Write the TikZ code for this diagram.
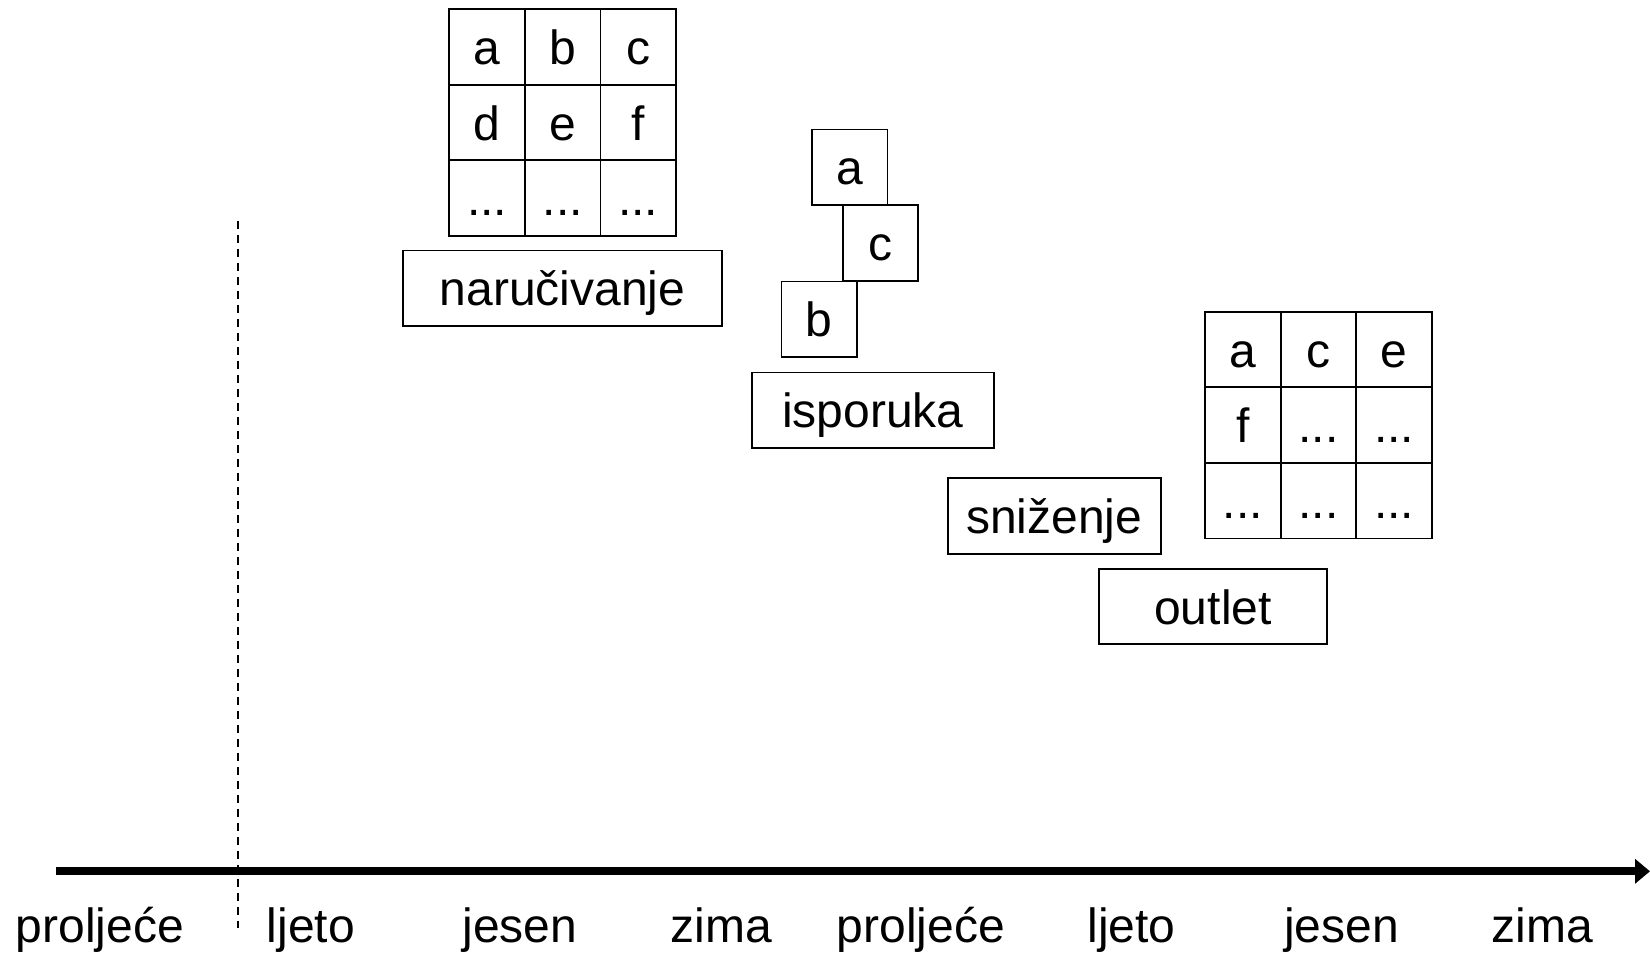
\documentclass[tikz,border=0pt]{standalone}
\usepackage{fontspec}
\setmainfont{Liberation Sans}
\usetikzlibrary{arrows.meta}

\begin{document}
\begin{tikzpicture}[
    x=0.5pt, y=-0.5pt,
    every node/.style={font=\fontsize{24}{28}\selectfont, inner sep=0pt,
      text height=17.5pt, text depth=0pt},
    cell/.style={draw, line width=0.9pt, minimum width=37.8pt, minimum height=37.8pt},
    labelbox/.style={draw, line width=0.9pt, minimum height=37.8pt},
    season/.style={anchor=base, text height=, text depth=},
  ]
  \useasboundingbox (0,0) rectangle (1650,955);

  % order grid
  \node[cell] (g11) at (487.1,46.8)  {a};
  \node[cell] (g12) at (562.7,46.8)  {b};
  \node[cell] (g13) at (638.2,46.8)  {c};
  \node[cell] (g21) at (487.1,122.5) {d};
  \node[cell] (g22) at (562.7,122.5) {e};
  \node[cell] (g23) at (638.2,122.5) {f};
  \node[cell] (g31) at (487.1,198.3) {...};
  \node[cell] (g32) at (562.7,198.3) {...};
  \node[cell] (g33) at (638.2,198.3) {...};
  \node[labelbox, minimum width=159.2pt] (order) at (562.5,288.3) {naručivanje};

  % delivered items
  \node[cell] (da) at (849.7,167.2) {a};
  \node[cell] (dc) at (880.5,243.0) {c};
  \node[cell] (db) at (819.2,319.2) {b};
  \node[labelbox, minimum width=121.2pt] (delivery) at (872.8,410.3) {isporuka};

  % sale and outlet
  \node[labelbox, minimum width=106.5pt] (sale) at (1054.2,515.8) {sniženje};
  \node[labelbox, minimum width=113.7pt] (outlet) at (1213.0,606.5) {outlet};

  % remaining stock grid
  \node[cell] (h11) at (1242.8,349.5) {a};
  \node[cell] (h12) at (1318.5,349.5) {c};
  \node[cell] (h13) at (1394.2,349.5) {e};
  \node[cell] (h21) at (1242.8,425.0) {f};
  \node[cell] (h22) at (1318.5,425.0) {...};
  \node[cell] (h23) at (1394.2,425.0) {...};
  \node[cell] (h31) at (1242.8,500.7) {...};
  \node[cell] (h32) at (1318.5,500.7) {...};
  \node[cell] (h33) at (1394.2,500.7) {...};

  % time axis
  \coordinate (axisStart) at (56,871.3);
  \coordinate (axisEnd) at (1650,871.3);
  \draw[line width=4pt, -{Triangle[length=7.5pt,width=12pt]}] (axisStart) -- (axisEnd);

  % start marker
  \coordinate (markTop) at (237.7,220.7);
  \coordinate (markBottom) at (237.7,928);
  \draw[line width=0.8pt, dash pattern=on 4pt off 3pt] (markTop) -- (markBottom);

  % seasons
  \node[season] (s1) at (100,942)    {proljeće};
  \node[season] (s2) at (311,942)    {ljeto};
  \node[season] (s3) at (520,942)    {jesen};
  \node[season] (s4) at (721.5,942)  {zima};
  \node[season] (s5) at (921,942)    {proljeće};
  \node[season] (s6) at (1131.5,942) {ljeto};
  \node[season] (s7) at (1341.5,942) {jesen};
  \node[season] (s8) at (1542.5,942) {zima};
\end{tikzpicture}
\end{document}
